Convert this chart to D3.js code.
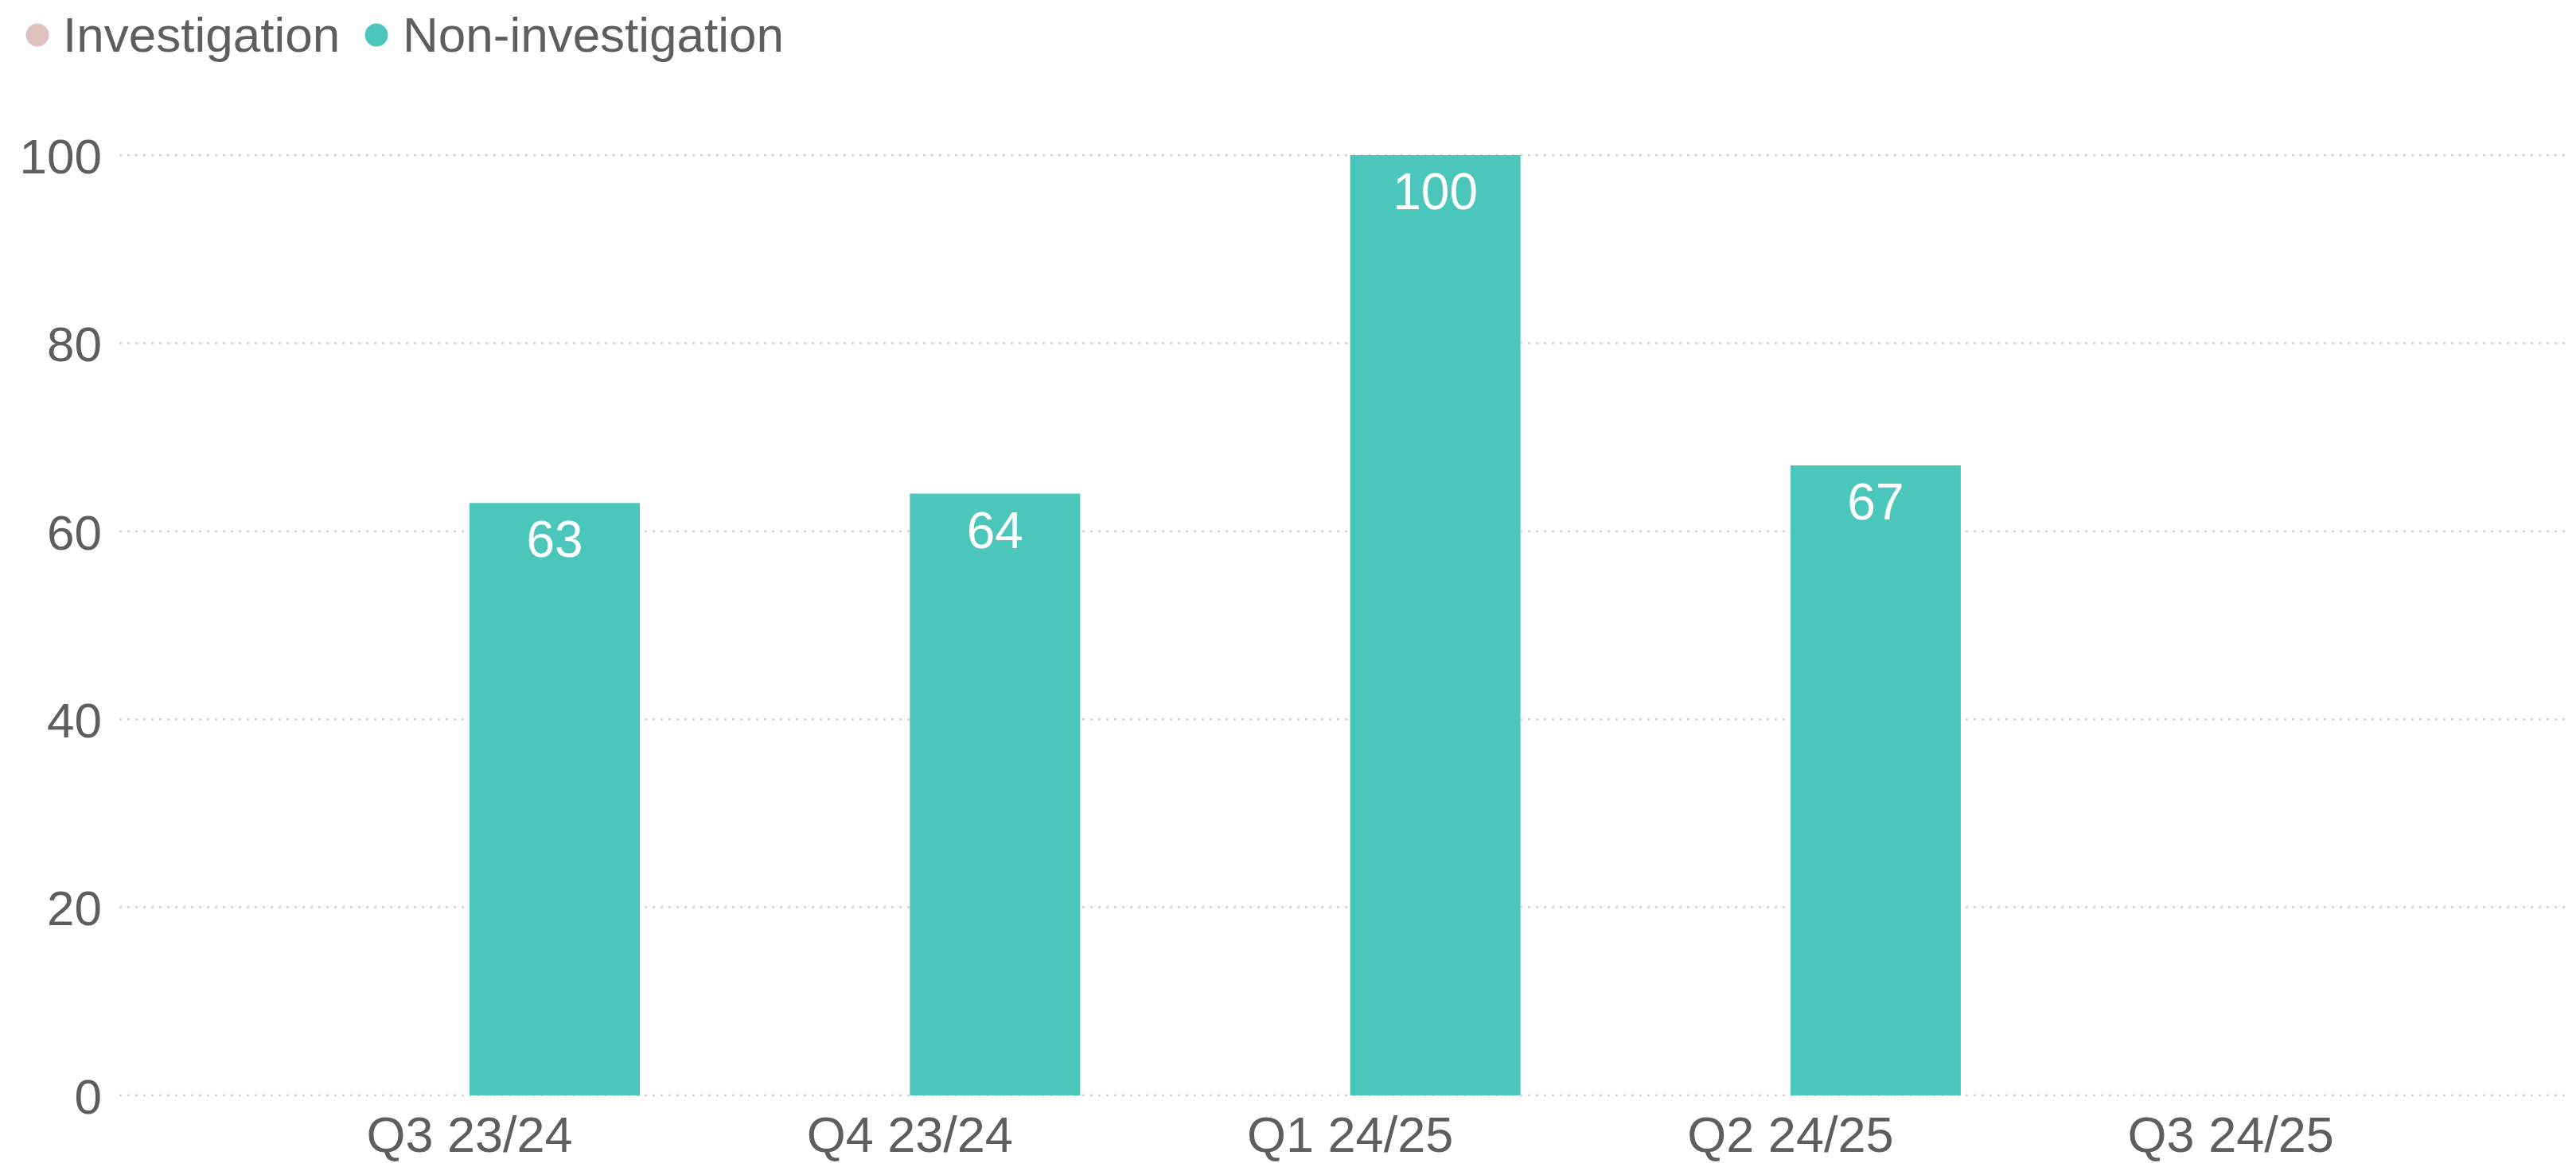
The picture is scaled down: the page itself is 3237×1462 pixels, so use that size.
<!DOCTYPE html>
<html>
<head>
<meta charset="utf-8">
<script src="https://cdn.jsdelivr.net/npm/d3@7"></script>
<style>
  html, body { margin: 0; padding: 0; background: #ffffff; }
  svg { display: block; }
  text { font-family: "Liberation Sans", Arial, sans-serif; }
</style>
</head>
<body>
<svg id="chart" width="3237" height="1462"></svg>
<script>
// Quarterly counts by case type
const categories = ["Q3 23/24", "Q4 23/24", "Q1 24/25", "Q2 24/25", "Q3 24/25"];
const seriesNames = ["Investigation", "Non-investigation"];
const investigation = [null, null, null, null, null];
const nonInvestigation = [63, 64, 100, 67, null];
const yTicks = [0, 20, 40, 60, 80, 100];

const seriesColors = { "Investigation": "#e0c1c2", "Non-investigation": "#4bc6bb" };
const textColor = "#605e5c";

const W = 3237, H = 1462;
const plot = { left: 150, right: 3228, top: 195, bottom: 1377 };

const svg = d3.select("#chart");

// Category scale: step ~553px, first category centred at x=590
const step = 553.3;
const firstCenter = 590;
const x0 = d3.scaleBand()
  .domain(categories)
  .range([firstCenter - step / 2, firstCenter - step / 2 + step * categories.length])
  .paddingInner(0)
  .paddingOuter(0);

const barW = 214;
const x1 = d3.scaleBand()
  .domain(seriesNames)
  .range([x0.bandwidth() / 2 - barW, x0.bandwidth() / 2 + barW])
  .padding(0);

const y = d3.scaleLinear().domain([0, 100]).range([plot.bottom, plot.top]);

// Dotted gridlines
svg.append("g")
  .selectAll("line")
  .data(yTicks)
  .join("line")
  .attr("x1", plot.left)
  .attr("x2", plot.right)
  .attr("y1", d => y(d))
  .attr("y2", d => y(d))
  .attr("stroke", "#d2d2d2")
  .attr("stroke-width", 2.5)
  .attr("stroke-dasharray", "3 7");

// Y axis labels
const yAxis = d3.axisLeft(y).tickValues(yTicks).tickSize(0).tickPadding(0);
const gy = svg.append("g").attr("transform", `translate(128,0)`).call(yAxis);
gy.select(".domain").remove();
gy.selectAll("text")
  .attr("fill", textColor)
  .attr("font-size", 62)
  .attr("dy", "0.36em")
  .attr("font-family", "'Liberation Sans', Arial, sans-serif");

// X axis labels
const xAxis = d3.axisBottom(x0).tickSize(0).tickPadding(0);
const gx = svg.append("g").attr("transform", `translate(0,${plot.bottom})`).call(xAxis);
gx.select(".domain").remove();
gx.selectAll("text")
  .attr("fill", textColor)
  .attr("font-size", 63)
  .attr("dy", 0)
  .attr("y", 71)
  .attr("font-family", "'Liberation Sans', Arial, sans-serif");

// Bars
const rows = categories.map((c, i) => ({
  category: c,
  values: [
    { series: "Investigation", value: investigation[i] },
    { series: "Non-investigation", value: nonInvestigation[i] }
  ]
}));

const groups = svg.append("g")
  .selectAll("g")
  .data(rows)
  .join("g")
  .attr("transform", d => `translate(${x0(d.category)},0)`);

const bars = groups.selectAll("g.bar")
  .data(d => d.values.filter(v => v.value != null))
  .join("g")
  .attr("class", "bar");

bars.append("rect")
  .attr("x", d => x1(d.series))
  .attr("width", x1.bandwidth())
  .attr("y", d => y(d.value))
  .attr("height", d => y(0) - y(d.value))
  .attr("fill", d => seriesColors[d.series]);

// Value labels inside the top of each bar
bars.append("text")
  .attr("x", d => x1(d.series) + x1.bandwidth() / 2)
  .attr("y", d => y(d.value) + 68)
  .attr("text-anchor", "middle")
  .attr("fill", "#ffffff")
  .attr("font-size", 64)
  .text(d => d3.format("d")(d.value));

// Legend
const legend = svg.append("g");
const legendItems = [
  { name: "Investigation", cx: 47, tx: 79 },
  { name: "Non-investigation", cx: 473, tx: 506 }
];
legend.selectAll("circle")
  .data(legendItems)
  .join("circle")
  .attr("cx", d => d.cx)
  .attr("cy", 44)
  .attr("r", 14.5)
  .attr("fill", d => seriesColors[d.name]);
legend.selectAll("text")
  .data(legendItems)
  .join("text")
  .attr("x", d => d.tx)
  .attr("y", 65)
  .attr("fill", textColor)
  .attr("font-size", 62)
  .text(d => d.name);
</script>
</body>
</html>
